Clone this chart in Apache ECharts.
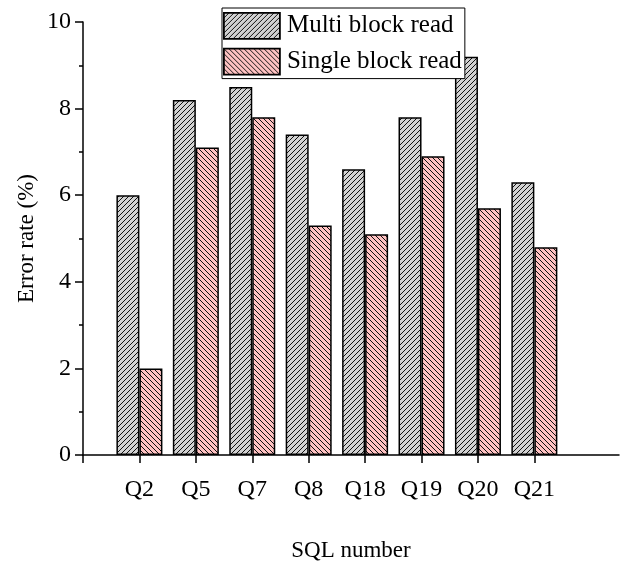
<!DOCTYPE html>
<html>
<head>
<meta charset="utf-8">
<title>Error rate by SQL number</title>
<script src="https://cdn.jsdelivr.net/npm/echarts@6/dist/echarts.min.js"></script>
<style>
  html, body { margin: 0; padding: 0; background: #ffffff; }
  #chart { width: 626px; height: 569px; }
</style>
</head>
<body>
<div id="chart"></div>
<script>
// Query names along the x axis
const categories = ['Q2', 'Q5', 'Q7', 'Q8', 'Q18', 'Q19', 'Q20', 'Q21'];
// Error rate (%) per query
const multiBlockRead = [6.0, 8.2, 8.5, 7.4, 6.6, 7.8, 9.2, 6.3];
const singleBlockRead = [2.0, 7.1, 7.8, 5.3, 5.1, 6.9, 5.7, 4.8];
const seriesNames = ['Multi block read', 'Single block read'];
const yTicks = [0, 2, 4, 6, 8, 10];

const FONT = '"Liberation Serif", "Times New Roman", serif';

// Small hatch tile used as a repeating fill: light background with dark diagonals.
function hatchTile(bg, forward) {
  const s = 5;
  const c = document.createElement('canvas');
  c.width = s; c.height = s;
  const g = c.getContext('2d');
  g.fillStyle = bg;
  g.fillRect(0, 0, s, s);
  g.strokeStyle = '#111111';
  g.lineWidth = 1;
  g.beginPath();
  if (forward) {
    // "/" direction
    g.moveTo(-1, s + 1); g.lineTo(s + 1, -1);
    g.moveTo(-1, 1); g.lineTo(1, -1);
    g.moveTo(s - 1, s + 1); g.lineTo(s + 1, s - 1);
  } else {
    // "\" direction
    g.moveTo(-1, -1); g.lineTo(s + 1, s + 1);
    g.moveTo(s - 1, -1); g.lineTo(s + 1, 1);
    g.moveTo(-1, s - 1); g.lineTo(1, s + 1);
  }
  g.stroke();
  return c;
}

const grayFill = { image: hatchTile('#d2d2d2', true), repeat: 'repeat' };
const pinkFill = { image: hatchTile('#ffc2c2', false), repeat: 'repeat' };

// Each query sits at integer position i + 1 on the x axis (0 is the axis origin).
const toPoints = vals => vals.map((v, i) => [i + 1, v]);
const positions = categories.map((_, i) => i + 1);

const chart = echarts.init(document.getElementById('chart'), null, { renderer: 'canvas' });

const option = {
  animation: false,
  backgroundColor: '#ffffff',
  textStyle: { fontFamily: FONT, color: '#000' },
  grid: { left: 83, right: 7, top: 22, bottom: 114, containLabel: false },
  legend: {
    orient: 'vertical',
    left: 222,
    top: 8,
    padding: [4, 3, 3, 1],
    itemGap: 8,
    itemWidth: 56,
    itemHeight: 26,
    icon: 'rect',
    borderColor: '#000',
    borderWidth: 1,
    backgroundColor: '#fff',
    textStyle: { fontFamily: FONT, fontSize: 25, color: '#000', padding: [0, 0, 0, 2] },
    itemStyle: { borderColor: '#000', borderWidth: 1.8 },
    data: seriesNames
  },
  xAxis: {
    type: 'value',
    min: 0,
    max: 9.5,
    interval: 1,
    name: 'SQL number',
    nameLocation: 'middle',
    nameGap: 84,
    nameMoveOverlap: false,
    nameTextStyle: { fontFamily: FONT, fontSize: 23, color: '#000' },
    splitLine: { show: false },
    axisLine: { show: true, onZero: false, lineStyle: { color: '#000', width: 1.5 } },
    axisTick: {
      show: true, inside: false, length: 8,
      customValues: [0].concat(positions),
      lineStyle: { color: '#000', width: 1.5 }
    },
    axisLabel: {
      show: true,
      margin: 23,
      customValues: positions,
      fontFamily: FONT, fontSize: 24, color: '#000',
      formatter: v => categories[Math.round(v) - 1] || ''
    }
  },
  yAxis: {
    type: 'value',
    min: yTicks[0],
    max: yTicks[yTicks.length - 1],
    interval: 2,
    name: 'Error rate (%)',
    nameLocation: 'middle',
    nameGap: 45,
    nameMoveOverlap: false,
    nameTextStyle: { fontFamily: FONT, fontSize: 23, color: '#000' },
    splitLine: { show: false },
    axisLine: { show: true, lineStyle: { color: '#000', width: 1.5 } },
    axisTick: { show: true, inside: false, length: 8, lineStyle: { color: '#000', width: 1.5 } },
    minorTick: { show: true, splitNumber: 2, length: 4, lineStyle: { color: '#000', width: 1.5 } },
    axisLabel: { margin: 12, fontFamily: FONT, fontSize: 24, color: '#000' }
  },
  series: [
    {
      name: seriesNames[0],
      type: 'bar',
      barWidth: 23,
      barGap: '0%',
      data: toPoints(multiBlockRead),
      itemStyle: { color: grayFill, borderColor: '#000', borderWidth: 1.5 }
    },
    {
      name: seriesNames[1],
      type: 'bar',
      barWidth: 23,
      barGap: '0%',
      data: toPoints(singleBlockRead),
      itemStyle: { color: pinkFill, borderColor: '#000', borderWidth: 1.5 }
    }
  ]
};

chart.setOption(option);
</script>
</body>
</html>
